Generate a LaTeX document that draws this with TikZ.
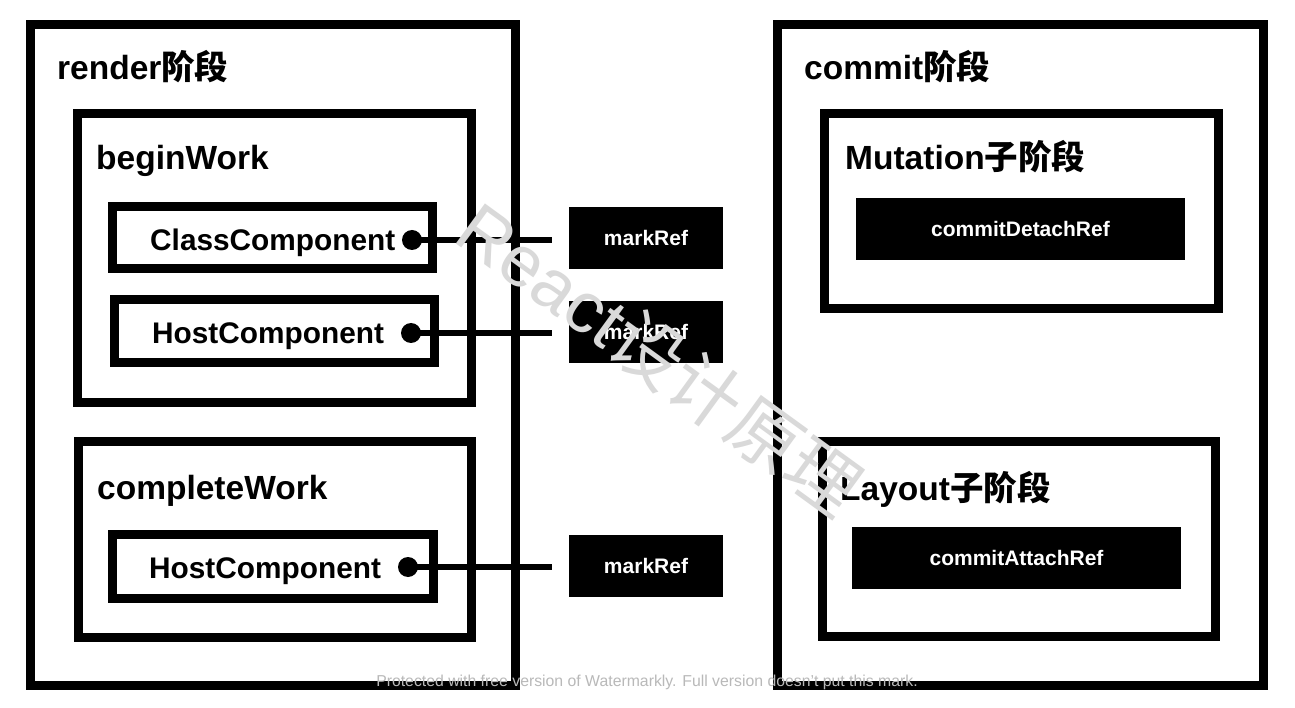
\documentclass[tikz,border=0pt]{standalone}
\usepackage{fontspec}
\setmainfont{Liberation Sans}
\newfontfamily\cjk{Noto Sans CJK SC}
\newcommand{\zh}[1]{{\cjk #1}}
\begin{document}
\begin{tikzpicture}[x=1pt,y=-1pt,
  frame/.style={draw=black, line width=9pt, inner sep=0pt, outer sep=0pt, anchor=north west},
  darkbox/.style={fill=black, text=white, inner sep=0pt, outer sep=0pt, anchor=north west,
    font=\fontsize{21}{21}\selectfont\bfseries},
  ttl/.style={anchor=base west, inner sep=0pt, font=\fontsize{33.5}{33.5}\selectfont\bfseries},
  lbl/.style={anchor=base west, inner sep=0pt, font=\fontsize{29.8}{29.8}\selectfont\bfseries},
  pin/.style={circle, fill=black, inner sep=0pt, minimum size=20pt},
  wire/.style={line width=6pt},
  wmark/.style={inner sep=0pt, text=gray!30}]
\useasboundingbox (0,0) rectangle (1295,708);
\fill[white] (0,0) rectangle (1295,708);

% frames
\node[frame, minimum width=485pt, minimum height=661pt] (render) at (30.5,24.5) {};
\node[frame, minimum width=486pt, minimum height=661pt] (commit) at (777.5,24.5) {};
\node[frame, minimum width=394pt, minimum height=289pt] (begin) at (77.5,113.5) {};
\node[frame, minimum width=320pt, minimum height=62pt] (classbox) at (112.5,206.5) {};
\node[frame, minimum width=320pt, minimum height=63pt] (hostboxa) at (114.5,299.5) {};
\node[frame, minimum width=393pt, minimum height=196pt] (complete) at (78.5,441.5) {};
\node[frame, minimum width=321pt, minimum height=64pt] (hostboxb) at (112.5,534.5) {};
\node[frame, minimum width=394pt, minimum height=195pt] (mutation) at (824.5,113.5) {};
\node[frame, minimum width=393pt, minimum height=195pt] (layout) at (822.5,441.5) {};

% black boxes
\node[darkbox, minimum width=154pt, minimum height=62pt] (mra) at (569,207) {markRef};
\node[darkbox, minimum width=154pt, minimum height=62pt] (mrb) at (569,301) {markRef};
\node[darkbox, minimum width=154pt, minimum height=62pt] (mrc) at (569,535) {markRef};
\node[darkbox, minimum width=329pt, minimum height=62pt] (detach) at (856,198) {commitDetachRef};
\node[darkbox, minimum width=329pt, minimum height=62pt] (attach) at (852,527) {commitAttachRef};

% titles
\node[ttl] (trender) at (57,80) {render\zh{阶段}};
\node[ttl] (tbegin) at (96,170) {beginWork};
\node[ttl] (tcomplete) at (97,499) {completeWork};
\node[ttl] (tcommit) at (804,80) {commit\zh{阶段}};
\node[ttl] (tmutation) at (845,170) {Mutation\zh{子阶段}};
\node[ttl] (tlayout) at (840,500) {Layout\zh{子阶段}};

% labels
\node[lbl] (lclass) at (150,251) {ClassComponent};
\node[lbl] (lhosta) at (152,344) {HostComponent};
\node[lbl] (lhostb) at (149,578) {HostComponent};

% pins and wires
\node[pin] (pa) at (412,240) {};
\node[pin] (pb) at (411,333) {};
\node[pin] (pc) at (408,567) {};
\coordinate (ea) at (552,240);
\coordinate (eb) at (552,333);
\coordinate (ec) at (552,567);
\draw[wire] (pa.center) -- (ea);
\draw[wire] (pb.center) -- (eb);
\draw[wire] (pc.center) -- (ec);

% watermarks
\node[wmark, rotate=-36, font=\fontsize{72}{72}\selectfont] (wmdiag) at (660,358) {React\zh{设计原理}};
\node[wmark, text=gray!55, font=\fontsize{15.8}{15.8}\selectfont] (wmbottom) at (647,682) {Protected with free version of Watermarkly. Full version doesn't put this mark.};
\end{tikzpicture}
\end{document}
